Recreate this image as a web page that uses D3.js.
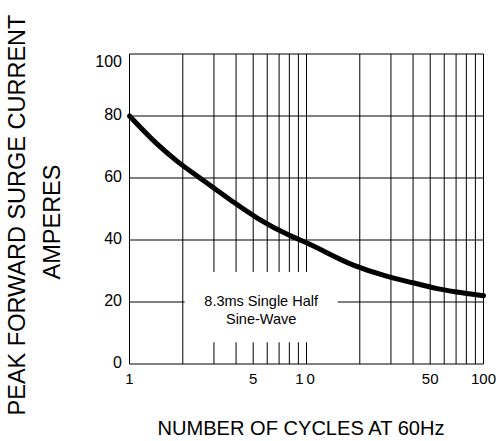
<!DOCTYPE html>
<html>
<head>
<meta charset="utf-8">
<script src="https://cdn.jsdelivr.net/npm/d3@7"></script>
<style>
  body { margin: 0; background: #fff; }
  text { font-family: "Liberation Sans", Arial, sans-serif; fill: #000; }
</style>
</head>
<body>
<svg id="chart" width="500" height="441"></svg>
<script>
// curve (cycles at 60Hz -> peak surge amps)
const cycles = [1, 1.43, 1.84, 2.5, 3.7, 5.3, 8, 10, 18.4, 28, 40, 54, 69, 100];
const amps = [80, 71, 65.6, 60, 53, 47, 41.5, 39.1, 31.9, 28.4, 26.2, 24.4, 23.3, 22];

const yTicks = [0, 20, 40, 60, 80, 100];
const xTickLabels = [1, 5, 10, 50, 100];
const xGrid = [2, 3, 4, 5, 6, 7, 8, 9, 10, 20, 30, 40, 50, 60, 70, 80, 90];
const noteLines = ["8.3ms Single Half", "Sine-Wave"];

const svg = d3.select("#chart");

const x = d3.scaleLog().domain([1, 100]).range([129.5, 483.5]);
const y = d3.scaleLinear().domain([0, 100]).range([364, 54]);

const grid = svg.append("g").attr("stroke", "#000").attr("stroke-width", 1);

// horizontal grid lines
grid.selectAll(".hline")
    .data(yTicks)
    .enter().append("line")
    .attr("x1", x(1)).attr("x2", x(100))
    .attr("y1", d => y(d)).attr("y2", d => y(d));

// vertical grid lines
grid.selectAll(".vline")
    .data([1].concat(xGrid, [100]))
    .enter().append("line")
    .attr("x1", d => x(d)).attr("x2", d => x(d))
    .attr("y1", y(0)).attr("y2", y(100));

// white box behind the note, it cuts the grid
const box = { x0: 2.05, x1: 15, y0: 7, y1: 29.7 };
svg.append("rect")
    .attr("x", x(box.x0))
    .attr("y", y(box.y1))
    .attr("width", x(box.x1) - x(box.x0))
    .attr("height", y(box.y0) - y(box.y1))
    .attr("fill", "#fff");

svg.append("text")
    .attr("x", (x(box.x0) + x(box.x1)) / 2)
    .attr("y", 306)
    .attr("text-anchor", "middle")
    .style("font-size", "14.5px")
    .selectAll("tspan")
    .data(noteLines)
    .enter().append("tspan")
    .attr("x", (x(box.x0) + x(box.x1)) / 2)
    .attr("dy", (d, i) => i === 0 ? 0 : 18)
    .text(d => d);

// the curve
const line = d3.line()
    .x(d => x(d[0]))
    .y(d => y(d[1]))
    .curve(d3.curveMonotoneX);

svg.append("path")
    .datum(cycles.map((c, i) => [c, amps[i]]))
    .attr("fill", "none")
    .attr("stroke", "#000")
    .attr("stroke-width", 5)
    .attr("stroke-linecap", "round")
    .attr("d", line);

// tick labels
svg.selectAll(".ylab")
    .data(yTicks)
    .enter().append("text")
    .attr("x", 122)
    .attr("y", d => y(d) + (d === 100 ? 13 : 4))
    .attr("text-anchor", "end")
    .style("font-size", "16px")
    .text(d => d);

svg.selectAll(".xlab")
    .data(xTickLabels)
    .enter().append("text")
    .attr("x", d => x(d))
    .attr("y", 384)
    .attr("text-anchor", "middle")
    .style("font-size", "15px")
    .style("letter-spacing", d => d === 10 ? "3px" : "0px")
    .text(d => d);

// axis titles (the original lettering is squeezed)
svg.append("text")
    .attr("x", 301)
    .attr("y", 435)
    .attr("text-anchor", "middle")
    .attr("textLength", 287)
    .attr("lengthAdjust", "spacingAndGlyphs")
    .style("font-size", "21px")
    .text("NUMBER OF CYCLES AT 60Hz");

svg.append("text")
    .attr("transform", "translate(25,215)rotate(-90)")
    .attr("text-anchor", "middle")
    .style("font-size", "23.5px")
    .text("PEAK FORWARD SURGE CURRENT");

svg.append("text")
    .attr("transform", "translate(60,222)rotate(-90)")
    .attr("text-anchor", "middle")
    .style("font-size", "23.5px")
    .text("AMPERES");
</script>
</body>
</html>
